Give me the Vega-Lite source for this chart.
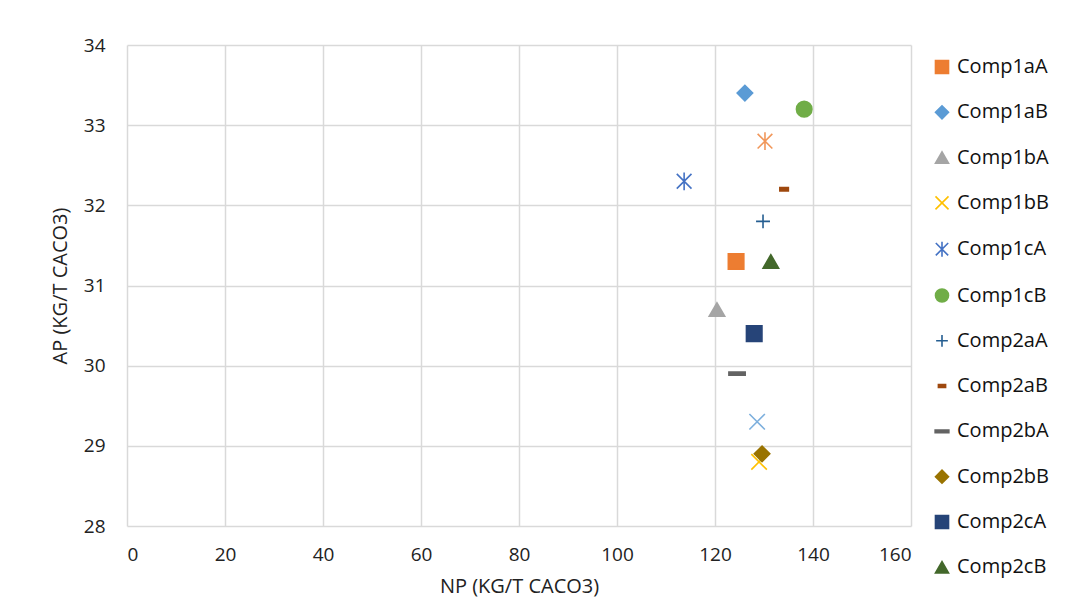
{
  "$schema": "https://vega.github.io/schema/vega-lite/v6.json",
  "width": 784,
  "height": 481,
  "autosize": "none",
  "padding": {"left": 127, "top": 45, "right": 157, "bottom": 86},
  "background": "white",
  "config": {
    "font": "Open Sans",
    "view": {"stroke": null},
    "axis": {"labelFont": "Open Sans", "titleFont": "Open Sans", "labelFontSize": 19, "titleFontSize": 20, "labelColor": "#222222", "titleColor": "#222222", "titleFontWeight": "normal", "gridColor": "#D9D9D9", "gridWidth": 1.5, "domain": false, "ticks": false}
  },
  "data": {
    "values": [
      {"series": "Comp1aA", "np": 124.3, "ap": 31.3},
      {"series": "Comp1aB", "np": 126.1, "ap": 33.4},
      {"series": "Comp1bA", "np": 120.4, "ap": 30.7},
      {"series": "Comp1bB", "np": 129.0, "ap": 28.8},
      {"series": "Comp1cA", "np": 113.7, "ap": 32.3},
      {"series": "Comp1cB", "np": 138.2, "ap": 33.2},
      {"series": "Comp2aA", "np": 129.8, "ap": 31.8},
      {"series": "Comp2aB", "np": 134.1, "ap": 32.2},
      {"series": "Comp2bA", "np": 124.5, "ap": 29.9},
      {"series": "Comp2bB", "np": 129.6, "ap": 28.9},
      {"series": "Comp2cA", "np": 128.0, "ap": 30.4},
      {"series": "Comp2cB", "np": 131.4, "ap": 31.3},
      {"series": "Comp3aA", "np": 130.2, "ap": 32.8},
      {"series": "Comp3aB", "np": 128.6, "ap": 29.3}
    ]
  },
  "mark": {"type": "point", "filled": true, "opacity": 1, "size": 240, "strokeWidth": 1.6},
  "encoding": {
    "x": {"field": "np", "type": "quantitative", "scale": {"domain": [0, 160], "nice": false, "zero": false}, "axis": {"values": [0, 20, 40, 60, 80, 100, 120, 140, 160], "title": "NP (KG/T CACO3)", "labelPadding": 19, "titlePadding": 12}},
    "y": {"field": "ap", "type": "quantitative", "scale": {"domain": [28, 34], "nice": false, "zero": false}, "axis": {"values": [28, 29, 30, 31, 32, 33, 34], "title": "AP (KG/T CACO3)", "labelPadding": 22, "titlePadding": 13}},
    "fill": {"field": "series", "type": "nominal", "scale": {"domain": ["Comp1aA","Comp1aB","Comp1bA","Comp1bB","Comp1cA","Comp1cB","Comp2aA","Comp2aB","Comp2bA","Comp2bB","Comp2cA","Comp2cB","Comp3aA","Comp3aB"], "range": ["#ED7D31","#5B9BD5","#A5A5A5","#FFC000","#4472C4","#70AD47","#255E91","#9E480E","#636363","#997300","#264478","#43682B","#F1975A","#7CAFDD"]},
      "legend": {"title": null, "orient": "none", "legendX": 805, "legendY": 12, "values": ["Comp1aA","Comp1aB","Comp1bA","Comp1bB","Comp1cA","Comp1cB","Comp2aA","Comp2aB","Comp2bA","Comp2bB","Comp2cA","Comp2cB"], "labelFont": "Open Sans", "labelFontSize": 20, "labelColor": "#111111", "symbolSize": 170, "symbolStrokeWidth": 1.6, "labelOffset": 5, "rowPadding": 25.3, "padding": 0}},
    "stroke": {"field": "series", "type": "nominal", "scale": {"domain": ["Comp1aA","Comp1aB","Comp1bA","Comp1bB","Comp1cA","Comp1cB","Comp2aA","Comp2aB","Comp2bA","Comp2bB","Comp2cA","Comp2cB","Comp3aA","Comp3aB"], "range": ["#ED7D31","#5B9BD5","#A5A5A5","#FFC000","#4472C4","#70AD47","#255E91","#9E480E","#636363","#997300","#264478","#43682B","#F1975A","#7CAFDD"]}},
    "shape": {"field": "series", "type": "nominal", "scale": {"domain": ["Comp1aA","Comp1aB","Comp1bA","Comp1bB","Comp1cA","Comp1cB","Comp2aA","Comp2aB","Comp2bA","Comp2bB","Comp2cA","Comp2cB","Comp3aA","Comp3aB"], "range": ["square","diamond","triangle-up","M-1,-1L1,1M-1,1L1,-1","M-0.95,-0.95L0.95,0.95M-0.95,0.95L0.95,-0.95M0,-1.15L0,1.15","circle","M-0.9,0L0.9,0M0,-0.9L0,0.9","M-0.55,-0.22H0.55V0.22H-0.55Z","M-1.05,-0.2H1.05V0.2H-1.05Z","diamond","square","triangle-up","M-0.95,-0.95L0.95,0.95M-0.95,0.95L0.95,-0.95M0,-1.15L0,1.15","M-1,-1L1,1M-1,1L1,-1"]}}
  }
}
